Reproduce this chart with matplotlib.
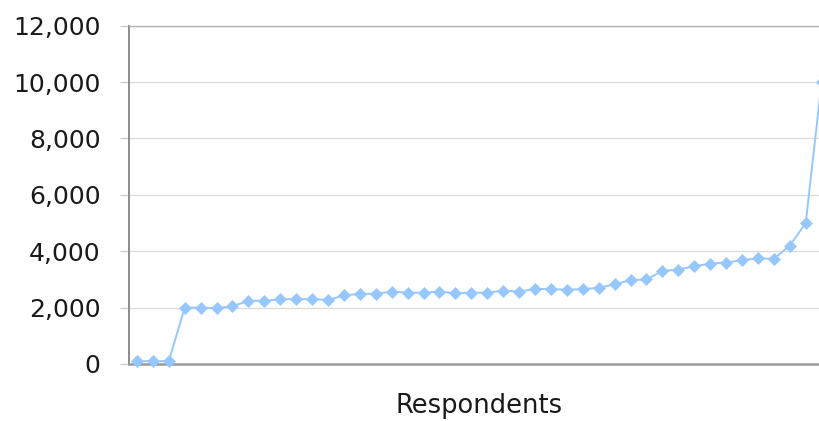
import matplotlib
matplotlib.use("Agg")
import matplotlib.pyplot as plt
from matplotlib.ticker import FuncFormatter

respondents = list(range(1, 45))
values = [100, 100, 100, 2000, 2000, 1980, 2050, 2240, 2240, 2300, 2300, 2300,
          2270, 2430, 2490, 2490, 2570, 2530, 2530, 2570, 2510, 2530, 2530, 2600,
          2570, 2660, 2660, 2630, 2660, 2700, 2830, 2970, 3000, 3300, 3350, 3470,
          3560, 3600, 3680, 3750, 3730, 4200, 5000, 10000]
y_ticks = [0, 2000, 4000, 6000, 8000, 10000, 12000]
x_label = "Respondents"

fig = plt.figure(figsize=(8.2, 4.21), dpi=100)
ax = fig.add_axes([0.1573, 0.1354, 0.8544, 0.8036])

color = "#96C8FF"
ax.plot(respondents, values, color=color, linewidth=1.4, marker="D",
        markersize=6.5, markerfacecolor=color, markeredgecolor=color,
        markeredgewidth=0.5, clip_on=False, zorder=3)

ax.set_xlim(0.5, 44.5)
ax.set_ylim(0, 12000)
ax.set_yticks(y_ticks)
ax.yaxis.set_major_formatter(FuncFormatter(lambda v, p: f"{int(v):,}"))
ax.set_xticks([])
ax.grid(axis="y", color="#dcdcdc", linewidth=1.0, zorder=0)
ax.set_axisbelow(True)

ax.spines["left"].set_color("#8c8c8c")
ax.spines["left"].set_linewidth(1.4)
ax.spines["bottom"].set_color("#9a9a9a")
ax.spines["bottom"].set_linewidth(1.8)
ax.spines["top"].set_color("#b4b4b4")
ax.spines["top"].set_linewidth(1.0)
ax.spines["right"].set_visible(False)

ax.tick_params(axis="y", direction="out", length=6.5, width=1.0,
               color="#cfcfcf", pad=14, labelsize=18, labelcolor="#1a1a1a")
ax.set_xlabel(x_label, fontsize=18.5, color="#1a1a1a", labelpad=21)

fig.savefig("out.png", dpi=100)
